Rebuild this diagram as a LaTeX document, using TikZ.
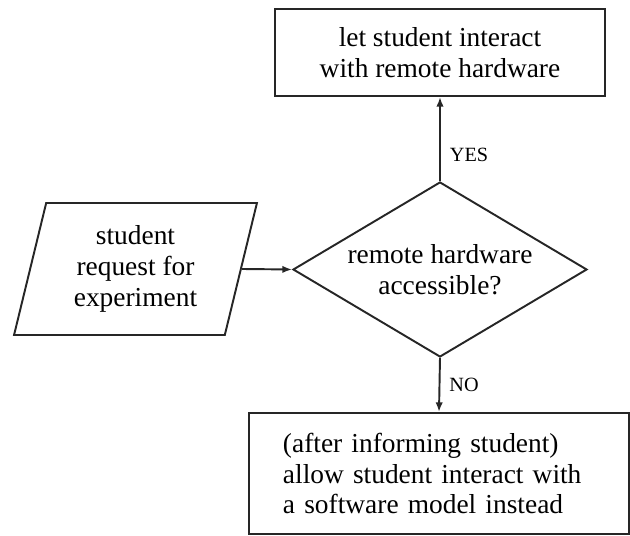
\documentclass[tikz,border=0pt]{standalone}
\usepackage{fontspec}
\setmainfont{Liberation Serif}
\usetikzlibrary{shapes.geometric,arrows.meta}

\begin{document}
\begin{tikzpicture}[
    x=1cm,y=1cm,
    blocco/.style={draw=black!85,line width=1.1pt,rectangle,inner sep=0pt,
      font=\fontsize{15.6}{17.5}\selectfont,align=center},
    decisione/.style={draw=black!85,line width=1.1pt,diamond,inner sep=0pt,
      shape aspect=1.68,minimum width=5.88cm,minimum height=3.5cm,
      font=\fontsize{15.6}{17.5}\selectfont,align=center},
    ingresso/.style={draw=black!85,line width=1.1pt,trapezium,inner sep=0pt,
      trapezium left angle=75.6,trapezium right angle=104.4,
      trapezium stretches=true,minimum width=4.9cm,minimum height=2.64cm,
      font=\fontsize{15.6}{17.5}\selectfont,align=center},
    freccia/.style={draw=black!85,line width=1.1pt,-{Latex[length=5.5pt,width=4.2pt]}},
    etichetta/.style={anchor=west,inner sep=0pt,xshift=0.18cm,
      font=\fontsize{11.5}{13}\selectfont}]

  \useasboundingbox (0,0) rectangle (12.6,-10.72);

  % ---- blocchi ---------------------------------------------------------
  \node[ingresso] (richiesta) at (2.71,-5.38)
    {student\\request for\\experiment};

  \node[decisione] (verifica) at (8.80,-5.39)
    {remote hardware\\accessible?};

  \node[blocco,minimum width=6.6cm,minimum height=1.74cm] (hardware) at (8.80,-1.05)
    {let student interact\\with remote hardware};

  % blocco in basso: testo allineato a sinistra
  \node[blocco,align=left,text width=6.24cm,inner xsep=0.68cm,
        minimum height=2.42cm] (modello) at (8.78,-9.47)
    {(after informing student)\\allow student interact with\\a software model instead};

  % ---- frecce ----------------------------------------------------------
  \draw[freccia] (richiesta.east) -- (verifica.west);
  \draw[freccia] (verifica.north) -- node[etichetta,pos=0.31] {YES} (hardware.south);
  \draw[freccia] (verifica.south) -- node[etichetta,pos=0.5] {NO} (modello.north);

\end{tikzpicture}
\end{document}
